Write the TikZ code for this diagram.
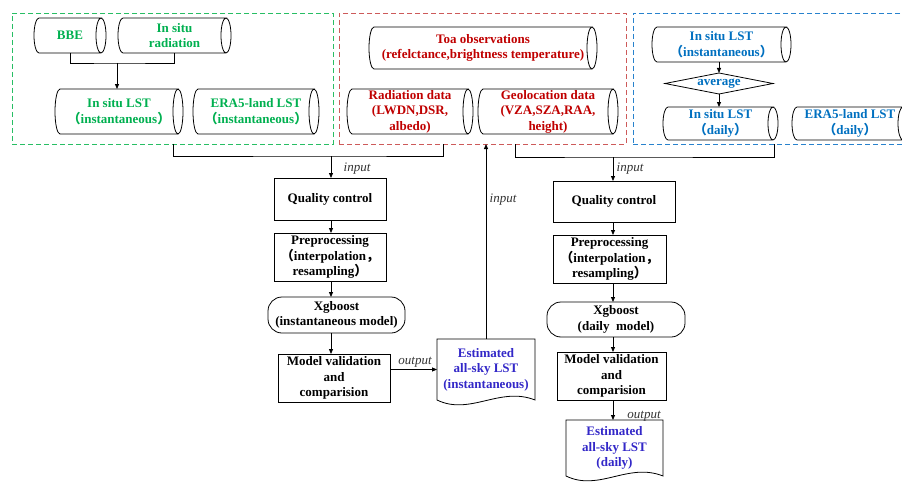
\documentclass[tikz,border=0pt]{standalone}
\usepackage{fontspec}
\setmainfont{Liberation Serif}
\newfontfamily\cjk{Noto Sans CJK SC}
\usetikzlibrary{arrows.meta,shapes.geometric,calc}
\definecolor{gtxt}{RGB}{0,176,80}
\definecolor{gbox}{RGB}{40,190,100}
\definecolor{rtxt}{RGB}{192,0,0}
\definecolor{rbox}{RGB}{205,90,90}
\definecolor{btxt}{RGB}{0,112,192}
\definecolor{bbox}{RGB}{40,130,205}
\definecolor{dtxt}{RGB}{51,40,200}
\newcommand\fwl{{\cjk （}}
\newcommand\fwr{{\cjk ）}}
\newcommand\fwc{{\cjk ，}}
\tikzset{
  every node/.style={font=\fontsize{13}{15.5}\selectfont\bfseries, inner sep=0pt, outer sep=0pt, align=center},
  gtx/.style={text=gtxt}, rtx/.style={text=rtxt}, btx/.style={text=btxt},
  cylline/.style={draw=black, line width=0.8pt},
  procbox/.style={draw, line width=0.8pt, rectangle},
  dbox/.style={dash pattern=on 5pt off 3pt, line width=0.9pt},
  flow/.style={line width=0.8pt, -{Triangle[length=5pt,width=4pt]}},
  conn/.style={line width=0.8pt},
  lbl/.style={font=\fontsize{13}{15}\selectfont\itshape, text=black!80},
}
\newcommand\cylnode[7]{%
  \node[#6,minimum width={(#4-#2)*1pt},minimum height={(#5-#3)*1pt}] (#1) at ({(#2+#4)/2},{(#3+#5)/2}) {#7};
  \draw[cylline] (#4-5,#3) arc[start angle=90,end angle=-270,x radius=5pt,y radius={(#5-#3)/2*1pt}] -- (#2+5,#3) arc[start angle=90,end angle=270,x radius=5pt,y radius={(#5-#3)/2*1pt}] -- (#4-5,#5);
}
\begin{document}
\begin{tikzpicture}[x=1pt,y=-1pt]
\useasboundingbox (0,0) rectangle (902,487);
\clip (0,0) rectangle (902,487);
\fill[white] (0,0) rectangle (902,487);

% dashed group boxes
\node[dbox,draw=gbox,minimum width=321pt,minimum height=131pt] (greenbox) at (172.5,78.5) {};
\node[dbox,draw=rbox,minimum width=287pt,minimum height=131pt] (redbox) at (482.5,78.5) {};
\node[dbox,draw=bbox,minimum width=280pt,minimum height=131pt] (bluebox) at (773,78.5) {};

% green group
\cylnode{bbe}{34}{18}{106}{53}{gtx}{BBE}
\cylnode{radi}{118}{18}{231}{53}{gtx}{In situ\\radiation}
\cylnode{insitu}{55}{89}{183}{134}{gtx}{In situ LST\\\fwl instantaneous\fwr}
\cylnode{era}{193}{89}{319}{134}{gtx}{ERA5-land LST\\\fwl instantaneous\fwr}

% red group
\cylnode{toa}{369}{27}{597}{69}{rtx}{Toa observations\\(refelctance,brightness temperature)}
\cylnode{rad}{347}{89}{473}{134}{rtx}{Radiation data\\(LWDN,DSR,\\albedo)}
\cylnode{geo}{478}{89}{618}{134}{rtx}{Geolocation data\\(VZA,SZA,RAA,\\height)}

% blue group
\cylnode{insitub}{652}{27}{791}{62}{btx}{In situ LST\\\fwl instantaneous\fwr}
\node[diamond,draw,line width=0.8pt,aspect=5.1,minimum width=108pt,minimum height=21pt,text=btxt] (avg) at (719,83.5) {average};
\cylnode{insitud}{663}{107}{778}{140}{btx}{In situ LST\\\fwl daily\fwr}
\cylnode{erad}{792}{107}{908}{140}{btx}{ERA5-land LST\\\fwl daily\fwr}

% left process column
\node[procbox,minimum width=112pt,minimum height=42pt] (qc1) at (330,199) {Quality control};
\node[procbox,minimum width=112pt,minimum height=48pt] (pp1) at (330,257) {Preprocessing\\\fwl interpolation\fwc\\resampling\fwr};
\node[procbox,rounded corners=14pt,minimum width=137pt,minimum height=36pt] (xg1) at (336.5,315) {Xgboost\\(instantaneous model)};
\node[procbox,minimum width=112pt,minimum height=48pt] (mv1) at (334,378) {Model validation\\and\\comparision};
\node[text=dtxt,minimum width=98pt,minimum height=61pt] (doc1) at (486,369.5) {Estimated\\all-sky LST\\(instantaneous)};
\draw[conn] (doc1.north west) -- (doc1.north east) -- (doc1.south east)
  .. controls ($(doc1.south east)+(-35,-14)$) and ($(doc1.south west)+(33,16)$) .. (doc1.south west) -- cycle;

% right process column
\node[procbox,minimum width=122pt,minimum height=41pt] (qc2) at (614,201.5) {Quality control};
\node[procbox,minimum width=113pt,minimum height=48pt] (pp2) at (609.5,259) {Preprocessing\\\fwl interpolation\fwc\\resampling\fwr};
\node[procbox,rounded corners=14pt,minimum width=138pt,minimum height=35pt] (xg2) at (616,319.5) {Xgboost\\(daily\ \ model)};
\node[procbox,minimum width=109pt,minimum height=48pt] (mv2) at (611.5,376) {Model validation\\and\\comparision};
\node[text=dtxt,minimum width=97pt,minimum height=56pt] (doc2) at (614.5,448) {Estimated\\all-sky LST\\(daily)};
\draw[conn] (doc2.north west) -- (doc2.north east) -- (doc2.south east)
  .. controls ($(doc2.south east)+(-35,-14)$) and ($(doc2.south west)+(33,16)$) .. (doc2.south west) -- cycle;

% junction coordinates
\coordinate (j0) at (117,63);
\coordinate (gx) at (173,0);
\coordinate (rx) at (443,0);
\coordinate (rx2) at (515,0);
\coordinate (bx) at (774,0);
\coordinate (jl) at (331,156);
\coordinate (jr) at (613,157);
\coordinate (c1) at (331,0);
\coordinate (c2) at (613,0);

% connectors inside groups
\draw[conn] (bbe.south) |- (j0) -| (radi.south);
\draw[flow] (j0) -- (insitu.north -| j0);
\draw[flow] (insitub.south -| avg.north) -- (avg.north);
\draw[flow] (avg.south) -- (avg.south |- insitud.north);

% group to process connectors
\draw[conn] (greenbox.south -| gx) |- (jl) -| (redbox.south -| rx);
\draw[flow] (jl) -- (qc1.north -| jl);
\draw[conn] (redbox.south -| rx2) |- (jr) -| (bluebox.south -| bx);
\draw[flow] (jr) -- (qc2.north -| jr);

% left column flow
\draw[flow] (qc1.south -| c1) -- (pp1.north -| c1);
\draw[flow] (pp1.south -| c1) -- (xg1.north -| c1);
\draw[flow] (xg1.south -| c1) -- (mv1.north -| c1);
\draw[flow] (mv1.east |- doc1.west) -- (doc1.west);
\draw[flow] (doc1.north) -- (doc1.north |- redbox.south);

% right column flow
\draw[flow] (qc2.south -| c2) -- (pp2.north -| c2);
\draw[flow] (pp2.south -| c2) -- (xg2.north -| c2);
\draw[flow] (xg2.south -| c2) -- (mv2.north -| c2);
\draw[flow] (mv2.south -| c2) -- (doc2.north -| c2);

% labels
\node[lbl] (in1) at (357,169) {input};
\node[lbl] (in2) at (503,200) {input};
\node[lbl] (in3) at (630,169) {input};
\node[lbl] (out1) at (415,362) {output};
\node[lbl] (out2) at (644,416) {output};
\end{tikzpicture}
\end{document}
